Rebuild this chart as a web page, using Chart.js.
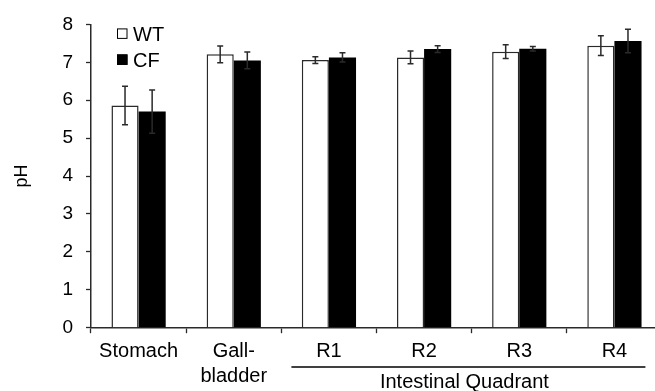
<!DOCTYPE html>
<html>
<head>
<meta charset="utf-8">
<script src="https://cdn.jsdelivr.net/npm/chart.js@4.4.1/dist/chart.umd.min.js"></script>
<style>
  html, body { margin: 0; padding: 0; background: #fff; overflow: hidden; }
  #wrap { position: relative; width: 670px; height: 391px; }
</style>
</head>
<body>
<div id="wrap"><canvas id="phChart"></canvas></div>
<script>
const categories = ['Stomach', ['Gall-', 'bladder'], 'R1', 'R2', 'R3', 'R4'];
const seriesNames = ['WT', 'CF'];
const wtMeans = [5.86, 7.21, 7.06, 7.13, 7.28, 7.44];
const wtErrors = [0.51, 0.22, 0.09, 0.17, 0.18, 0.26];
const cfMeans = [5.70, 7.05, 7.13, 7.35, 7.36, 7.56];
const cfErrors = [0.57, 0.22, 0.12, 0.09, 0.06, 0.31];
const yTicks = [0, 1, 2, 3, 4, 5, 6, 7, 8];
const groupLabel = 'Intestinal Quadrant';

const FONT = "'Liberation Sans', Arial, sans-serif";
const errors = [wtErrors, cfErrors];

// error bars, drawn from the bar elements and the y scale
const errorBars = {
  id: 'errorBars',
  afterDatasetsDraw(chart) {
    const ctx = chart.ctx;
    const y = chart.scales.y;
    ctx.save();
    ctx.strokeStyle = '#2a2a2a';
    ctx.lineWidth = 1.5;
    chart.data.datasets.forEach((ds, i) => {
      const meta = chart.getDatasetMeta(i);
      meta.data.forEach((bar, j) => {
        const hi = y.getPixelForValue(ds.data[j] + errors[i][j]);
        const lo = y.getPixelForValue(ds.data[j] - errors[i][j]);
        ctx.beginPath();
        ctx.moveTo(bar.x, hi); ctx.lineTo(bar.x, lo);
        ctx.moveTo(bar.x - 3, hi); ctx.lineTo(bar.x + 3, hi);
        ctx.moveTo(bar.x - 3, lo); ctx.lineTo(bar.x + 3, lo);
        ctx.stroke();
      });
    });
    ctx.restore();
  }
};

// legend in the top left corner + bracket under R1..R4
const extras = {
  id: 'extras',
  afterDraw(chart) {
    const ctx = chart.ctx;
    const area = chart.chartArea;
    const x = chart.scales.x;
    ctx.save();
    ctx.font = '20px ' + FONT;
    ctx.fillStyle = '#000';
    ctx.textBaseline = 'middle';
    const lx = area.left + 26;
    const rows = [area.top + 4, area.top + 30];
    chart.data.datasets.forEach((ds, i) => {
      ctx.fillStyle = ds.backgroundColor;
      ctx.fillRect(lx, rows[i], 10.5, 10.5);
      ctx.strokeStyle = '#000';
      ctx.lineWidth = 1;
      ctx.strokeRect(lx + 0.5, rows[i] + 0.5, 9.5, 9.5);
      ctx.fillStyle = '#000';
      ctx.fillText(ds.label, lx + 16, rows[i] + 7);
    });

    const x0 = x.getPixelForValue(2) - 37.5;
    const x1 = x.getPixelForValue(5) + 31;
    ctx.strokeStyle = '#000';
    ctx.lineWidth = 1.3;
    ctx.beginPath();
    ctx.moveTo(x0, 367); ctx.lineTo(x1, 367);
    ctx.stroke();
    ctx.font = '20px ' + FONT;
    ctx.textAlign = 'center';
    ctx.textBaseline = 'alphabetic';
    ctx.fillText(groupLabel, (x0 + x1) / 2 - 4, 388);
    ctx.restore();
  }
};

const ctx = document.getElementById('phChart').getContext('2d');
const chart = new Chart(ctx, {
  type: 'bar',
  data: {
    labels: categories,
    datasets: [{
      label: seriesNames[0],
      data: wtMeans,
      backgroundColor: '#ffffff',
      borderColor: '#2a2a2a',
      borderWidth: 1.5,
      categoryPercentage: 0.57,
      barPercentage: 1.0
    }, {
      label: seriesNames[1],
      data: cfMeans,
      backgroundColor: '#000000',
      borderColor: '#000000',
      borderWidth: 0,
      categoryPercentage: 0.57,
      barPercentage: 1.0
    }]
  },
  plugins: [errorBars, extras],
  options: {
    responsive: true,
    maintainAspectRatio: false,
    animation: false,
    layout: { padding: { top: 19, right: 8, bottom: 0, left: 0 } },
    plugins: {
      legend: { display: false },
      tooltip: { enabled: false }
    },
    scales: {
      x: {
        afterFit: (s) => { s.height = 63.3; },
        border: { display: true, color: '#2a2a2a', width: 1.5 },
        grid: {
          display: true,
          offset: true,
          drawOnChartArea: false,
          drawTicks: true,
          tickLength: 5.5,
          tickColor: '#2a2a2a',
          tickWidth: 1.3
        },
        ticks: {
          color: '#000',
          padding: 6,
          maxRotation: 0,
          autoSkip: false,
          font: { family: FONT, size: 20, lineHeight: 1.25 }
        }
      },
      y: {
        min: 0,
        max: 8,
        afterFit: (s) => { s.width = 91; },
        afterBuildTicks: (s) => { s.ticks = yTicks.map(v => ({ value: v })); },
        border: { display: true, color: '#2a2a2a', width: 1.5 },
        grid: {
          display: true,
          drawOnChartArea: false,
          drawTicks: true,
          tickLength: 5,
          tickColor: '#2a2a2a',
          tickWidth: 1.3
        },
        ticks: {
          color: '#000',
          padding: 13,
          font: { family: FONT, size: 19 }
        },
        title: {
          display: true,
          text: 'pH',
          color: '#000',
          padding: { top: 11, bottom: 0 },
          font: { family: FONT, size: 18 }
        }
      }
    }
  }
});
</script>
</body>
</html>
